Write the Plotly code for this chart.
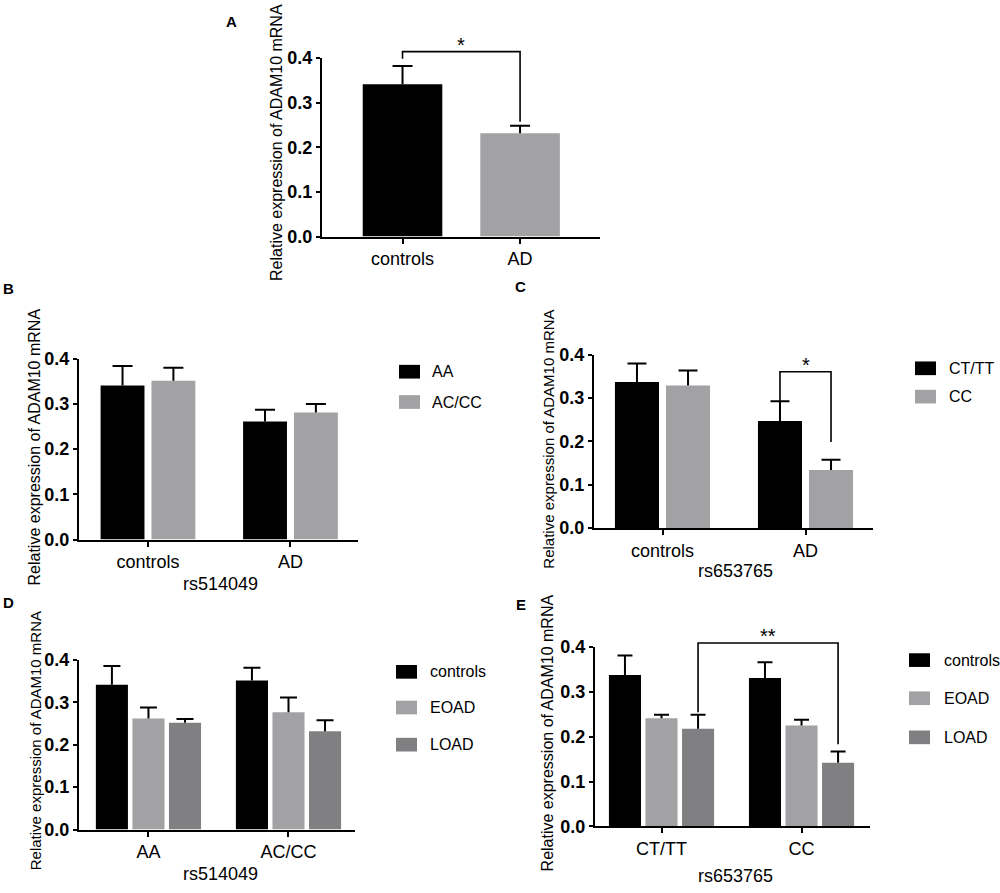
"""ADAM10 mRNA expression, panels A-E (grouped bars with SEM)."""

import plotly.graph_objects as go

W, H = 1000, 893

BLACK = "#000000"
GREY = "#a2a2a5"
DARK = "#808082"
FONT = "Arial, Liberation Sans, sans-serif"
Y_TITLE = "Relative expression of ADAM10 mRNA"
Y_TICKS = [0.0, 0.1, 0.2, 0.3, 0.4]

# values (mean and upper error)
a_groups = ["controls", "AD"]
a_mean = [0.341, 0.231]
a_sem = [0.041, 0.017]

b_groups = ["controls", "AD"]
b_series = ["AA", "AC/CC"]
b_mean = [[0.341, 0.261], [0.351, 0.281]]
b_sem = [[0.043, 0.026], [0.029, 0.019]]

c_groups = ["controls", "AD"]
c_series = ["CT/TT", "CC"]
c_mean = [[0.337, 0.247], [0.329, 0.134]]
c_sem = [[0.043, 0.046], [0.035, 0.024]]

d_groups = ["AA", "AC/CC"]
d_series = ["controls", "EOAD", "LOAD"]
d_mean = [[0.342, 0.352], [0.262, 0.277], [0.252, 0.232]]
d_sem = [[0.044, 0.030], [0.026, 0.035], [0.009, 0.026]]

e_groups = ["CT/TT", "CC"]
e_series = ["controls", "EOAD", "LOAD"]
e_mean = [[0.338, 0.331], [0.241, 0.225], [0.218, 0.142]]
e_sem = [[0.043, 0.035], [0.008, 0.013], [0.031, 0.025]]


def px(x, y):
    return x / W, 1 - y / H


panels = [
    dict(letter="A", letter_xy=(231, 12), groups=a_groups, series=[None],
         mean=[a_mean], sem=[a_sem], colors=[[BLACK, GREY]],
         xdom=(322, 600), ydom=(231.7, 49), xrange=(-0.685, 1.68),
         bw=0.677, gap=0.0, cap_px=20, ytitle_xy=(277, 136), ytitle_size=16,
         xtitle=None, legend=None,
         bracket=dict(left=(0, 0), right=(1, 0), top=0.414, ldrop=0.398,
                      rdrop=0.257, text="*")),
    dict(letter="B", letter_xy=(8, 285), groups=b_groups, series=b_series,
         mean=b_mean, sem=b_sem, colors=[BLACK, GREY],
         xdom=(79, 358), ydom=(541.7, 356.7), xrange=(-0.484, 1.474),
         bw=0.308, gap=0.049, cap_px=20, ytitle_xy=(34.5, 447), ytitle_size=16,
         xtitle=("rs514049", 220, 587),
         legend=dict(sx=399, tx=430, rows=[370, 401]), bracket=None),
    dict(letter="C", letter_xy=(520, 283), groups=c_groups, series=c_series,
         mean=c_mean, sem=c_sem, colors=[BLACK, GREY],
         xdom=(594, 873), ydom=(530, 352.7), xrange=(-0.479, 1.472),
         bw=0.308, gap=0.049, cap_px=19, ytitle_xy=(548.5, 439), ytitle_size=15,
         xtitle=("rs653765", 735, 574),
         legend=dict(sx=915, tx=947, rows=[366.5, 395.5]),
         bracket=dict(left=(1, 0), right=(1, 1), top=0.361, ldrop=0.293,
                      rdrop=0.199, text="*")),
    dict(letter="D", letter_xy=(8, 606), groups=d_groups, series=d_series,
         mean=d_mean, sem=d_sem, colors=[BLACK, GREY, DARK],
         xdom=(79, 355), ydom=(838.3, 665), xrange=(-0.496, 1.475),
         bw=0.229, gap=0.032, cap_px=17, ytitle_xy=(35, 748), ytitle_size=15,
         xtitle=("rs514049", 220, 884),
         legend=dict(sx=396, tx=428, rows=[677, 713.5, 751.5]), bracket=None),
    dict(letter="E", letter_xy=(521, 608), groups=e_groups, series=e_series,
         mean=e_mean, sem=e_sem, colors=[BLACK, GREY, DARK],
         xdom=(595, 870), ydom=(835, 651.7), xrange=(-0.475, 1.489),
         bw=0.229, gap=0.032, cap_px=15, ytitle_xy=(547, 740), ytitle_size=16,
         xtitle=("rs653765", 735, 886),
         legend=dict(sx=909, tx=942, rows=[665, 704, 744]),
         bracket=dict(left=(0, 2), right=(1, 2), top=0.409, ldrop=0.2545,
                      rdrop=0.183, text="**")),
]

fig = go.Figure()
shapes = []
annotations = []
layout_axes = {}

for i, p in enumerate(panels):
    n = len(p["series"])
    suffix = "" if i == 0 else str(i + 1)
    xs = list(range(len(p["groups"])))
    total = n * p["bw"] + (n - 1) * p["gap"]
    offsets = [-total / 2 + k * (p["bw"] + p["gap"]) for k in range(n)]
    unit_px = (p["xdom"][1] - p["xdom"][0]) / (p["xrange"][1] - p["xrange"][0])
    cap = p["cap_px"] / 2 / unit_px

    for k in range(n):
        fig.add_trace(go.Bar(
            x=xs, y=p["mean"][k], name=p["series"][k],
            width=p["bw"], offset=offsets[k],
            marker=dict(color=p["colors"][k], line=dict(width=0)),
            showlegend=False, xaxis="x" + suffix, yaxis="y" + suffix,
        ))
        # upper-only error bars: stem from bar top plus a cap
        ex, ey = [], []
        for g, (m, s) in enumerate(zip(p["mean"][k], p["sem"][k])):
            cx = g + offsets[k] + p["bw"] / 2
            ex += [cx, cx, None, cx - cap, cx + cap, None]
            ey += [m, m + s, None, m + s, m + s, None]
        fig.add_trace(go.Scatter(
            x=ex, y=ey, mode="lines", line=dict(color=BLACK, width=2),
            showlegend=False, hoverinfo="skip",
            xaxis="x" + suffix, yaxis="y" + suffix,
        ))

    x0, y0 = px(p["xdom"][0], p["ydom"][0])
    x1, y1 = px(p["xdom"][1], p["ydom"][1])
    layout_axes["xaxis" + suffix] = dict(
        domain=[x0, x1], range=list(p["xrange"]), anchor="y" + suffix,
        tickvals=xs, ticktext=p["groups"],
        showline=True, linecolor=BLACK, linewidth=2, ticks="outside",
        ticklen=5, tickwidth=2, tickcolor=BLACK, showgrid=False,
        zeroline=False, tickfont=dict(size=18, color=BLACK, family=FONT),
        fixedrange=True,
    )
    layout_axes["yaxis" + suffix] = dict(
        domain=[y0, y1], range=[0, 0.4], anchor="x" + suffix,
        tickvals=Y_TICKS, tickformat=".1f", showline=True, linecolor=BLACK,
        linewidth=2, ticks="outside", ticklen=4, tickwidth=2,
        tickcolor=BLACK, showgrid=False, zeroline=False,
        tickfont=dict(size=18, color=BLACK, family=FONT, weight="bold"),
        fixedrange=True,
    )

    def to_paper(xd, v, p=p, x0=x0, x1=x1, y0=y0, y1=y1):
        r0, r1 = p["xrange"]
        return (x0 + (xd - r0) / (r1 - r0) * (x1 - x0),
                y0 + v / 0.4 * (y1 - y0))

    lx, ly = px(*p["letter_xy"])
    annotations.append(dict(text="<b>%s</b>" % p["letter"], x=lx, y=ly,
                            xref="paper", yref="paper", showarrow=False,
                            xanchor="center", yanchor="middle",
                            font=dict(size=15, color=BLACK, family=FONT)))
    tx, ty = px(*p["ytitle_xy"])
    annotations.append(dict(text=Y_TITLE, x=tx, y=ty, xref="paper",
                            yref="paper", showarrow=False, textangle=-90,
                            xanchor="center", yanchor="middle",
                            font=dict(size=p["ytitle_size"], color=BLACK,
                                      family=FONT)))
    if p["xtitle"]:
        t, ax_, ay_ = p["xtitle"]
        qx, qy = px(ax_, ay_)
        annotations.append(dict(text=t, x=qx, y=qy, xref="paper",
                                yref="paper", showarrow=False,
                                xanchor="center", yanchor="middle",
                                font=dict(size=18, color=BLACK, family=FONT)))

    if p["legend"]:
        lg = p["legend"]
        for k, name in enumerate(p["series"]):
            cy = lg["rows"][k]
            sx0, sy0 = px(lg["sx"], cy - 7)
            sx1, sy1 = px(lg["sx"] + 21, cy + 7)
            shapes.append(dict(type="rect", xref="paper", yref="paper",
                               x0=sx0, x1=sx1, y0=sy0, y1=sy1,
                               fillcolor=p["colors"][k], line=dict(width=0)))
            nx, ny = px(lg["tx"], cy)
            annotations.append(dict(text=name, x=nx, y=ny, xref="paper",
                                    yref="paper", showarrow=False,
                                    xanchor="left", yanchor="middle",
                                    font=dict(size=16, color=BLACK,
                                              family=FONT)))

    br = p["bracket"]
    if br:
        gl, sl = br["left"]
        gr, sr = br["right"]
        xl = gl + offsets[sl] + p["bw"] / 2
        xr = gr + offsets[sr] + p["bw"] / 2
        pl_top = to_paper(xl, br["top"])
        pr_top = to_paper(xr, br["top"])
        pl_bot = to_paper(xl, br["ldrop"])
        pr_bot = to_paper(xr, br["rdrop"])
        shapes.append(dict(
            type="path", xref="paper", yref="paper",
            path="M %f %f L %f %f L %f %f L %f %f" % (
                pl_bot[0], pl_bot[1], pl_top[0], pl_top[1],
                pr_top[0], pr_top[1], pr_bot[0], pr_bot[1]),
            line=dict(color=BLACK, width=1.6)))
        mx = (pl_top[0] + pr_top[0]) / 2
        annotations.append(dict(text=br["text"], x=mx, y=pl_top[1],
                                xref="paper", yref="paper", showarrow=False,
                                xanchor="center", yanchor="bottom",
                                yshift=-6,
                                font=dict(size=20, color=BLACK, family=FONT)))

fig.update_layout(
    width=W, height=H, margin=dict(l=0, r=0, t=0, b=0),
    paper_bgcolor="white", plot_bgcolor="white",
    barmode="overlay", showlegend=False,
    font=dict(family=FONT, color=BLACK),
    shapes=shapes, annotations=annotations, **layout_axes,
)

fig.write_html("out.html", config={"displayModeBar": False},
               post_script="document.body.style.margin = '0';")
